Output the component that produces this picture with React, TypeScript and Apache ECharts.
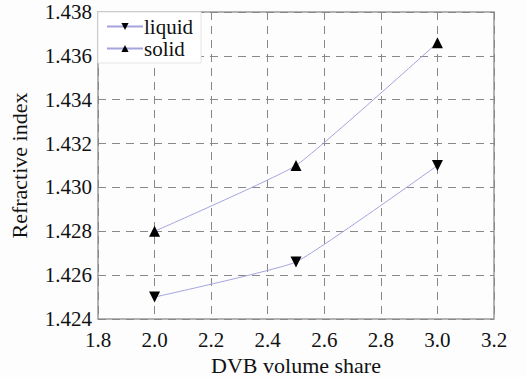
import React, { useEffect, useRef } from "react";
import * as echarts from "echarts";

const xValues = [2.0, 2.5, 3.0];
const liquid = [1.425, 1.4266, 1.431];
const solid = [1.428, 1.431, 1.4366];
const seriesNames = ["liquid", "solid"];

const FONT = "'Liberation Serif', 'Times New Roman', serif";

export default function App() {
  const ref = useRef<HTMLDivElement>(null);
  useEffect(() => {
    const chart = echarts.init(ref.current!, null, { renderer: "svg" });
    const lineColor = "#a4a4de";
    chart.setOption({
      animation: false,
      backgroundColor: "#fdfdfd",
      textStyle: { fontFamily: FONT },
      grid: {
        left: 98,
        right: 33,
        top: 12,
        bottom: 58,
        outerBoundsMode: "none",
        containLabel: false,
        show: true,
        borderColor: "#999",
        borderWidth: 1.5,
      },
      legend: {
        left: 98,
        top: 12,
        orient: "vertical",
        itemWidth: 36,
        itemHeight: 9,
        itemGap: 1,
        padding: [4, 8, 4, 8],
        backgroundColor: "#ffffff",
        borderColor: "#e4e4e4",
        borderWidth: 1,
        textStyle: { fontFamily: FONT, fontSize: 21, color: "#111", padding: [0, 0, 0, -4] },
        data: seriesNames,
      },
      xAxis: {
        type: "value",
        min: 1.8,
        max: 3.2,
        interval: 0.2,
        name: "DVB volume share",
        nameLocation: "middle",
        nameGap: 34,
        nameTextStyle: { fontFamily: FONT, fontSize: 22, color: "#111" },
        axisLine: { show: false },
        axisTick: { show: false },
        axisLabel: { fontFamily: FONT, fontSize: 21, color: "#111", margin: 10, formatter: (v: number) => v.toFixed(1) },
        splitLine: { show: true, lineStyle: { type: [8, 6], color: "#888", width: 1 } },
      },
      yAxis: {
        type: "value",
        min: 1.424,
        max: 1.438,
        interval: 0.002,
        name: "Refractive index",
        nameLocation: "middle",
        nameGap: 68,
        nameTextStyle: { fontFamily: FONT, fontSize: 22, color: "#111" },
        axisLine: { show: false },
        axisTick: { show: false },
        axisLabel: {
          fontFamily: FONT,
          fontSize: 21,
          color: "#111",
          margin: 6,
          padding: [4, 0, 0, 0],
          formatter: (v: number) => v.toFixed(3),
        },
        splitLine: { show: true, lineStyle: { type: [8, 6], color: "#888", width: 1 } },
      },
      series: [
        {
          name: "liquid",
          type: "line",
          smooth: 0.12,
          data: xValues.map((x, i) => [x, liquid[i]]),
          symbol: "triangle",
          symbolRotate: 180,
          symbolSize: 11,
          itemStyle: { color: "#000" },
          lineStyle: { color: lineColor, width: 1 },
        },
        {
          name: "solid",
          type: "line",
          smooth: 0.12,
          data: xValues.map((x, i) => [x, solid[i]]),
          symbol: "triangle",
          symbolSize: 11,
          itemStyle: { color: "#000" },
          lineStyle: { color: lineColor, width: 1 },
        },
      ],
    });
    return () => chart.dispose();
  }, []);
  return (
    <div
      ref={ref}
      style={{ position: "absolute", left: 0, top: 0, width: 527, height: 377 }}
    />
  );
}
